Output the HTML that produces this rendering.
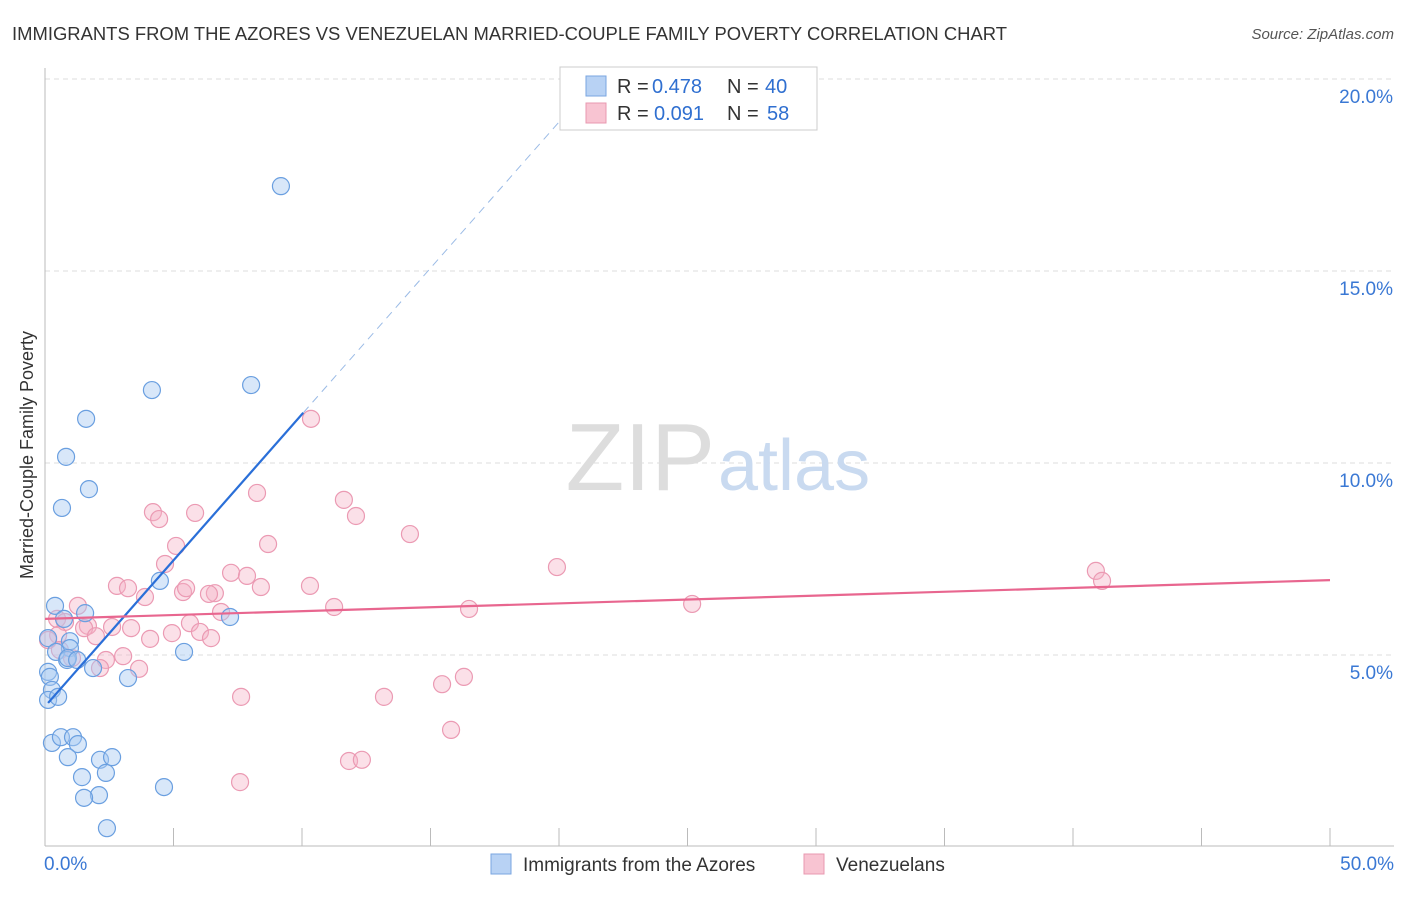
<!DOCTYPE html>
<html><head><meta charset="utf-8"><style>
body{margin:0;background:#fff;font-family:"Liberation Sans",sans-serif;}
svg text{font-family:"Liberation Sans",sans-serif;}
</style></head><body>
<svg width="1406" height="892">
<text x="12" y="40" font-size="18" fill="#333" textLength="995" lengthAdjust="spacingAndGlyphs">IMMIGRANTS FROM THE AZORES VS VENEZUELAN MARRIED-COUPLE FAMILY POVERTY CORRELATION CHART</text>
<text x="1394" y="39" font-size="15" fill="#555" text-anchor="end" font-style="italic">Source: ZipAtlas.com</text>
<g id="grid"></g>
<text x="715" y="490" font-size="96" fill="#ddd" text-anchor="end" font-family="Liberation Serif">ZIP</text>
<text x="718" y="490" font-size="72" fill="#c9daf0">atlas</text>
<g id="pts"></g>
<g id="lines"></g>
<text x="33" y="455" font-size="18" fill="#333" text-anchor="middle" transform="rotate(-90 33 455)">Married-Couple Family Poverty</text>
<g>
<rect x="560" y="67" width="257" height="63" fill="#fff" stroke="#ccc"/>
<rect x="586" y="76" width="20" height="20" fill="#b8d2f4" stroke="#7aa6e0"/>
<text x="617" y="93" font-size="20" fill="#333">R =</text>
<text x="652" y="93" font-size="20" fill="#2f6fd0">0.478</text>
<text x="727" y="93" font-size="20" fill="#333">N =</text>
<text x="765" y="93" font-size="20" fill="#2f6fd0">40</text>
<rect x="586" y="103" width="20" height="20" fill="#f8c4d2" stroke="#e899b0"/>
<text x="617" y="120" font-size="20" fill="#333">R =</text>
<text x="654" y="120" font-size="20" fill="#2f6fd0">0.091</text>
<text x="727" y="120" font-size="20" fill="#333">N =</text>
<text x="767" y="120" font-size="20" fill="#2f6fd0">58</text>
</g>
<g>
<rect x="491" y="854" width="20" height="20" fill="#b8d2f4" stroke="#7aa6e0"/>
<text x="523" y="871" font-size="19" fill="#333">Immigrants from the Azores</text>
<rect x="804" y="854" width="20" height="20" fill="#f8c4d2" stroke="#e899b0"/>
<text x="836" y="871" font-size="19" fill="#333">Venezuelans</text>
</g>
</svg>
<script>
const yTicks=[5,10,15,20];
const yTickLabels=["5.0%","10.0%","15.0%","20.0%"];
const xTickLabels=["0.0%","50.0%"];
const azoresX=[9.18,4.16,8.02,1.60,0.82,1.71,0.66,4.47,0.39,1.56,7.20,0.74,0.12,0.97,0.97,0.43,0.86,0.89,1.25,5.41,1.87,0.12,0.19,3.23,0.27,0.12,0.51,0.27,0.62,1.09,1.28,0.89,2.14,2.61,1.44,2.37,2.10,1.52,4.63,2.41];
const azoresY=[17.21,11.90,12.03,11.15,10.16,9.32,8.83,6.93,6.28,6.09,5.99,5.94,5.44,5.36,5.18,5.08,4.87,4.92,4.87,5.08,4.66,4.56,4.43,4.40,4.09,3.83,3.91,2.71,2.86,2.86,2.68,2.34,2.27,2.34,1.82,1.93,1.35,1.28,1.56,0.49];
const venX=[10.35,8.25,11.63,4.20,5.84,4.44,12.10,14.20,5.10,8.68,4.67,19.92,40.89,41.13,2.80,3.23,7.24,7.86,5.37,5.49,8.40,6.61,6.38,10.31,3.89,1.28,11.25,16.50,25.18,6.85,0.47,0.78,5.64,1.67,2.61,1.52,3.35,4.94,6.03,1.98,4.09,6.46,0.51,0.12,3.04,2.37,2.14,3.66,0.58,1.05,7.63,13.19,15.45,16.30,15.80,11.83,12.33,7.59];
const venY=[11.15,9.22,9.04,8.72,8.70,8.54,8.62,8.15,7.84,7.89,7.37,7.29,7.19,6.93,6.80,6.74,7.14,7.06,6.64,6.74,6.77,6.61,6.59,6.80,6.51,6.28,6.25,6.20,6.33,6.12,5.94,5.86,5.83,5.76,5.73,5.70,5.70,5.57,5.60,5.49,5.42,5.44,5.52,5.39,4.97,4.87,4.66,4.64,5.13,4.92,3.91,3.91,4.24,4.43,3.05,2.24,2.27,1.69];
const azoresLine=[3.66,0.761];
const venLine=[5.94,0.0202];
const X=v=>45+v*25.7, Y=v=>847-v*38.4;
const NS="http://www.w3.org/2000/svg";
function mk(t,a,p){const e=document.createElementNS(NS,t);for(const k in a)e.setAttribute(k,a[k]);p.appendChild(e);return e;}
const grid=document.getElementById('grid');
yTicks.forEach((t,i)=>{
 const l=mk('line',{x1:45,x2:1394,y1:Y(t),y2:Y(t),stroke:'#ddd','stroke-dasharray':'5,4'},grid);
 
 
 const tx=mk('text',{x:1393,y:Y(t)+24,'font-size':19,fill:'#3a78d4','text-anchor':'end'},grid);
 tx.textContent=yTickLabels[i];
 
 
});
mk('line',{x1:45,x2:45,y1:68,y2:846,stroke:'#bbb'},grid);
mk('line',{x1:45,x2:1394,y1:846,y2:846,stroke:'#bbb'},grid);
for(let i=0;i<=10;i++){const tk=mk('line',{x1:X(i*5),x2:X(i*5),y1:828,y2:846,stroke:'#bbb'},grid);
 
 }
[[0,'start',44],[50,'end',1394]].forEach((d,i)=>{const t=mk('text',{x:d[2],y:870,'font-size':19,fill:'#3a78d4','text-anchor':d[1]},grid);t.textContent=xTickLabels[i];
 
 });
const pts=document.getElementById('pts');
venX.forEach((x,i)=>{const c=mk('circle',{cx:X(x),cy:Y(venY[i]),r:8.5,fill:'rgba(246,178,198,0.4)',stroke:'#eb9ab3','stroke-width':1.2},pts);
 
 });
azoresX.forEach((x,i)=>{const c=mk('circle',{cx:X(x),cy:Y(azoresY[i]),r:8.5,fill:'rgba(168,202,242,0.45)',stroke:'#6a9fe0','stroke-width':1.2},pts);
 
 });
const ln=document.getElementById('lines');
const ax0=Math.min(...azoresX), ax1=10.05;
let l=mk('line',{x1:X(ax0),y1:Y(azoresLine[0]+azoresLine[1]*ax0),x2:X(ax1),y2:Y(azoresLine[0]+azoresLine[1]*ax1),stroke:'#2a6fd8','stroke-width':2.2},ln);


const ax2=(20.3-azoresLine[0])/azoresLine[1];
l=mk('line',{x1:X(ax1),y1:Y(azoresLine[0]+azoresLine[1]*ax1),x2:X(ax2),y2:Y(20.3),stroke:'#9bbbe6','stroke-width':1,'stroke-dasharray':'8,6'},ln);


l=mk('line',{x1:X(0),y1:Y(venLine[0]),x2:X(50),y2:Y(venLine[0]+venLine[1]*50),stroke:'#e8668f','stroke-width':2.2},ln);


</script>
</body></html>
